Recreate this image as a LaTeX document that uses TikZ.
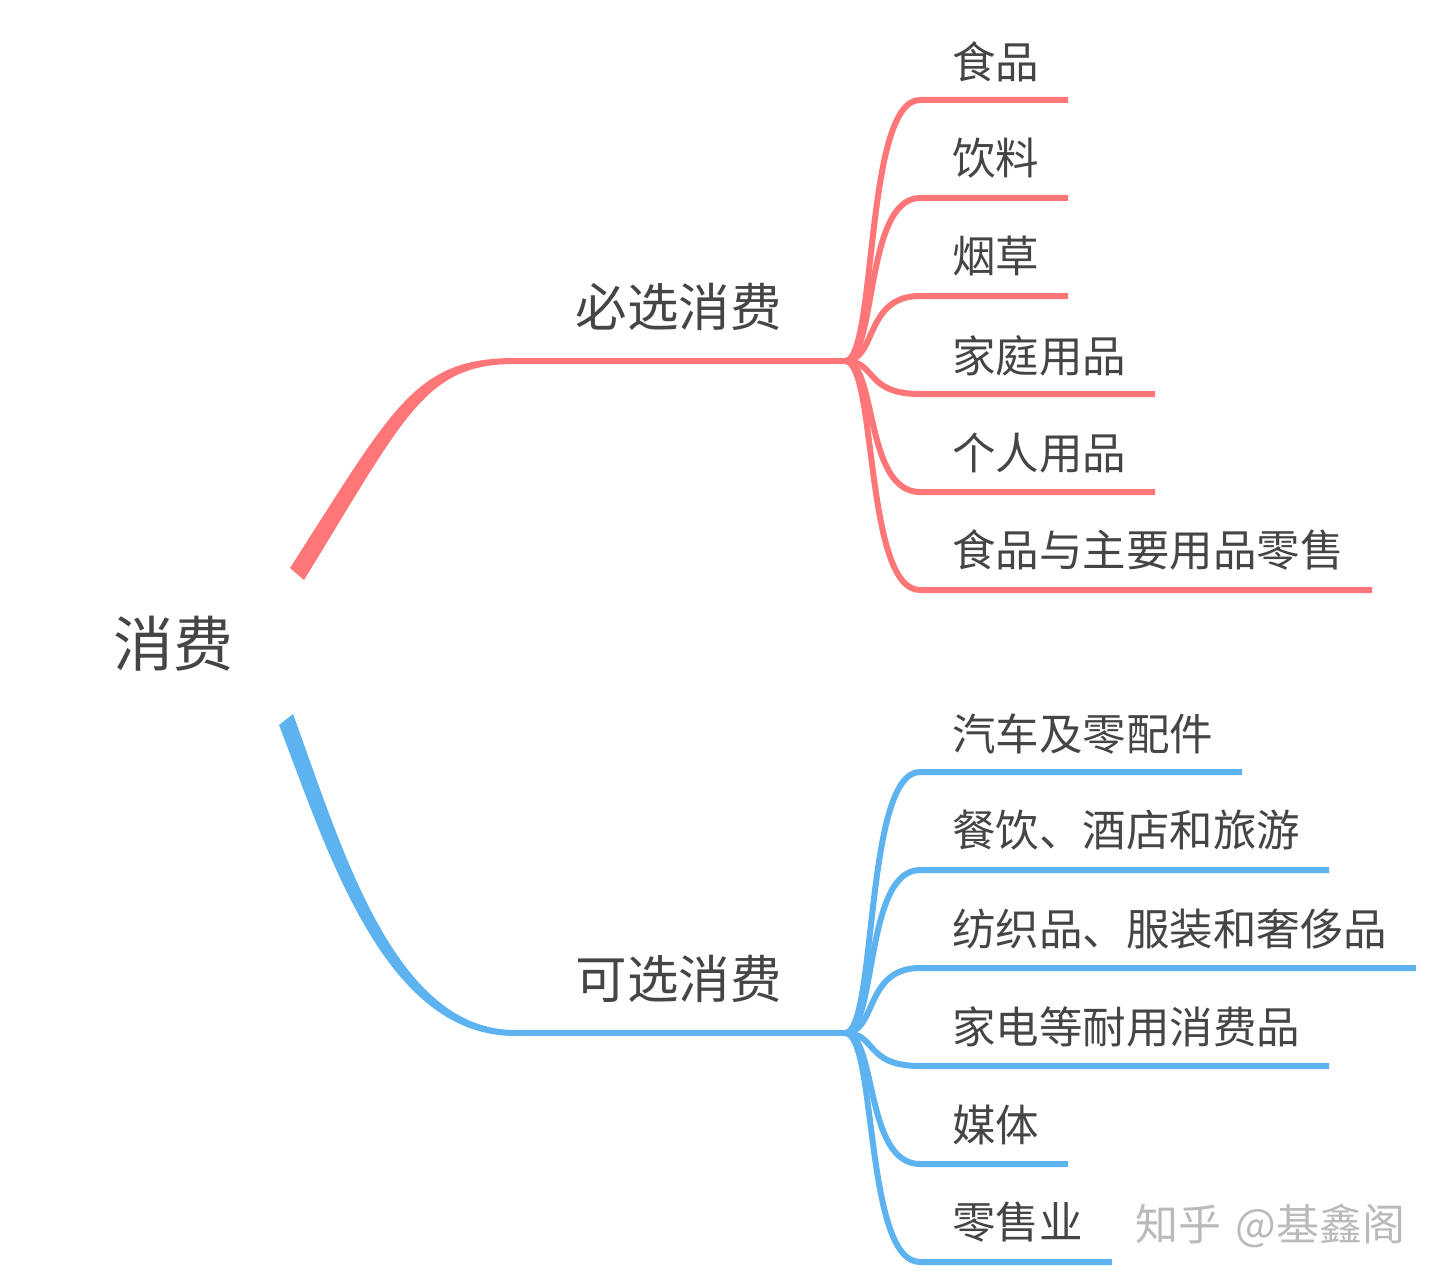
\documentclass[tikz,border=0pt]{standalone}
\usepackage{fontspec}
\setmainfont{Noto Sans CJK SC}
\definecolor{redb}{HTML}{FF7678}
\definecolor{blueb}{HTML}{5CB3F0}
\definecolor{txt}{HTML}{454545}
\definecolor{wm}{HTML}{BABABA}
\tikzset{
  leaf/.style={anchor=west,inner sep=0pt,text=txt,font=\fontsize{43.5}{43.5}\selectfont},
  mid/.style={anchor=west,inner sep=0pt,text=txt,font=\fontsize{51.5}{51.5}\selectfont},
  rootn/.style={anchor=west,inner sep=0pt,text=txt,font=\fontsize{60}{60}\selectfont},
  wmark/.style={anchor=west,inner sep=0pt,text=wm,font=\fontsize{43}{43}\selectfont},
  rline/.style={draw=redb,line width=6pt},
  bline/.style={draw=blueb,line width=6pt},
  twig/.style={to path={.. controls +(32,0) and +(-56,0) .. (\tikztotarget)}}
}
\begin{document}
\begin{tikzpicture}[x=1pt,y=-1pt]
\useasboundingbox (0,0) rectangle (1440,1284);
% texts
\node[rootn] (root) at (113,644) {消费};
\node[mid] (ma) at (575.5,307) {必选消费};
\node[mid] (mb) at (575.5,979) {可选消费};
\node[leaf] (a1) at (952,62) {食品};
\node[leaf] (a2) at (952,158) {饮料};
\node[leaf] (a3) at (952,256) {烟草};
\node[leaf] (a4) at (952,355.5) {家庭用品};
\node[leaf] (a5) at (952,453) {个人用品};
\node[leaf] (a6) at (952,550) {食品与主要用品零售};
\node[leaf] (b1) at (952,734) {汽车及零配件};
\node[leaf] (b2) at (952,830) {餐饮、酒店和旅游};
\node[leaf] (b3) at (952,929) {纺织品、服装和奢侈品};
\node[leaf] (b4) at (952,1027) {家电等耐用消费品};
\node[leaf] (b5) at (952,1125) {媒体};
\node[leaf] (b6) at (952,1222) {零售业};
\node[wmark] (wm) at (1135,1226) {知乎\hspace{5pt} @基鑫阁};
% coordinates
\coordinate (ja0) at (515,361); \coordinate (ja) at (845,361);
\coordinate (jb0) at (515,1033); \coordinate (jb) at (845,1033);
\foreach \n/\y/\e in {1/100/1068,2/198/1068,3/296/1068,4/394/1155,5/492/1155,6/590/1372}{
  \coordinate (as\n) at (920,\y); \coordinate (ae\n) at (\e,\y);
}
\foreach \n/\y/\e in {1/772/1242,2/870/1329,3/968/1416,4/1066/1329,5/1164/1068,6/1262/1112}{
  \coordinate (bs\n) at (920,\y); \coordinate (be\n) at (\e,\y);
}
% tapered branches
\fill[redb] (290,568) .. controls (394,406) and (415,358) .. (515,358)
  -- (515,364) .. controls (425,364) and (406,414) .. (304,580) -- cycle;
\fill[blueb] (279,725) .. controls (328,852) and (384,1036) .. (515,1036)
  -- (515,1030) .. controls (394,1030) and (342,848) .. (293,714) -- cycle;
\draw[rline] (ja0) -- (ja);
\draw[bline] (jb0) -- (jb);
% twigs
\foreach \n in {1,...,6}{
  \draw[rline] (ja) to[twig] (as\n) -- (ae\n);
  \draw[bline] (jb) to[twig] (bs\n) -- (be\n);
}
\end{tikzpicture}
\end{document}
